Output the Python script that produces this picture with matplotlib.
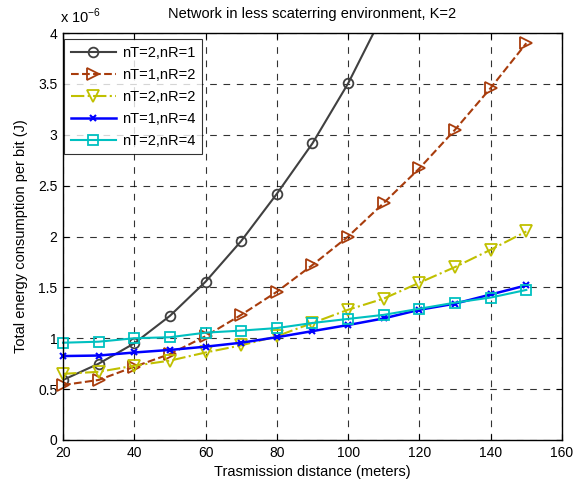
import matplotlib
matplotlib.use("Agg")
import matplotlib.pyplot as plt

plt.rcParams['font.family'] = ['Liberation Sans', 'DejaVu Sans']

distance = [20, 30, 40, 50, 60, 70, 80, 90, 100, 110, 120, 130, 140, 150]
# energy per bit in units of 1e-6 J
e_t2_r1 = [0.59, 0.75, 0.95, 1.22, 1.556, 1.956, 2.42, 2.916, 3.505, 4.2, 4.95, 5.75, 6.6, 7.5]
e_t1_r2 = [0.54, 0.59, 0.72, 0.845, 1.02, 1.23, 1.457, 1.72, 2.0, 2.33, 2.67, 3.05, 3.46, 3.90]
e_t2_r2 = [0.65, 0.67, 0.73, 0.78, 0.86, 0.93, 1.02, 1.15, 1.28, 1.39, 1.546, 1.70, 1.87, 2.05]
e_t1_r4 = [0.825, 0.83, 0.86, 0.885, 0.917, 0.956, 1.01, 1.07, 1.13, 1.195, 1.28, 1.34, 1.43, 1.52]
e_t2_r4 = [0.956, 0.966, 1.0, 1.01, 1.055, 1.075, 1.10, 1.15, 1.19, 1.23, 1.29, 1.35, 1.40, 1.475]
labels = ['nT=2,nR=1', 'nT=1,nR=2', 'nT=2,nR=2', 'nT=1,nR=4', 'nT=2,nR=4']
xticks = [20, 40, 60, 80, 100, 120, 140, 160]
yticks = [0, 0.5, 1, 1.5, 2, 2.5, 3, 3.5, 4]
yticklabels = ['0', '0.5', '1', '1.5', '2', '2.5', '3', '3.5', '4']

fig = plt.figure(figsize=(5.74, 4.86), dpi=100)
ax = fig.add_axes([0.1098, 0.0947, 0.8692, 0.8373])

ax.plot(distance, e_t2_r1, color='#404040', ls='-', marker='o', ms=7, mfc='none', mew=1.3, lw=1.5, label=labels[0])
ax.plot(distance, e_t1_r2, color='#a83c0c', ls='--', marker='>', ms=8.5, mfc='none', mew=1.3, lw=1.5, label=labels[1], clip_on=False)
ax.plot(distance, e_t2_r2, color='#c0c000', ls='-.', marker='v', ms=8.5, mfc='none', mew=1.3, lw=1.5, label=labels[2], clip_on=False)
ax.plot(distance, e_t1_r4, color='#0000ff', ls='-', marker='x', ms=4, mew=1.5, lw=1.8, label=labels[3], clip_on=False)
ax.plot(distance, e_t2_r4, color='#00c0c0', ls='-', marker='s', ms=7, mfc='none', mew=1.3, lw=1.5, label=labels[4], clip_on=False)

ax.set_xlim(20, 160)
ax.set_ylim(0, 4)
ax.set_xticks(xticks)
ax.set_yticks(yticks)
ax.set_yticklabels(yticklabels)
ax.tick_params(direction='in', top=True, right=True, labelsize=10, length=4, pad=4)
ax.grid(True, color='black', ls=(0, (6, 6)), lw=0.8, alpha=0.8)
for s in ax.spines.values():
    s.set_linewidth(1.0)

ax.set_xlabel('Trasmission distance (meters)', fontsize=10.5, labelpad=4)
ax.set_ylabel('Total energy consumption per bit (J)', fontsize=10.5, labelpad=7)
ax.set_title('Network in less scaterring environment, K=2', fontsize=10.5, pad=11)
ax.text(-0.006, 1.018, r'x 10$^{\mathregular{-6}}$', transform=ax.transAxes, fontsize=10.5, ha='left', va='bottom')

leg = ax.legend(loc='upper left', bbox_to_anchor=(0.002, 0.985), fontsize=10.5, frameon=True, fancybox=False,
                edgecolor='black', borderaxespad=0.0, handlelength=3.1, handletextpad=0.4,
                labelspacing=0.55, borderpad=0.45)
leg.get_frame().set_linewidth(0.8)

fig.savefig('out.png', dpi=100)
